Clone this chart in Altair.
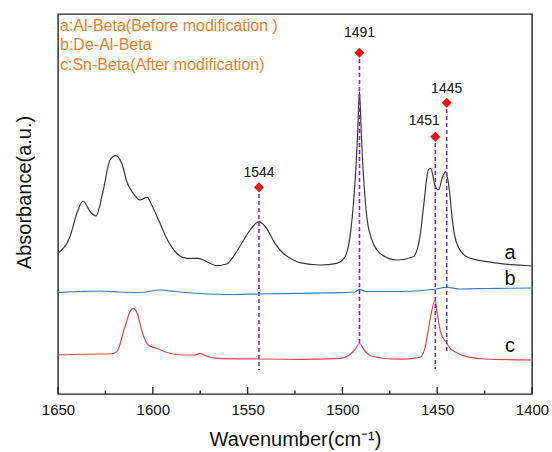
import altair as alt
import pandas as pd

# ---- data ----
a_wn = [1650, 1643.7, 1640, 1636.8, 1633, 1630, 1626.1, 1622.6, 1619.6, 1616.4, 1613.4, 1610.3, 1606.8,
        1602.9, 1600.6, 1596.2, 1592.7, 1587.4, 1582.1, 1576, 1571.6, 1566.3, 1561, 1557.5, 1553.1,
        1548.7, 1544, 1540, 1535.6, 1531.2, 1525.9, 1522.4, 1511.8, 1503, 1498.6, 1496, 1493.9, 1492.1,
        1491, 1489.9, 1488.1, 1486, 1480.2, 1471.4, 1462.6, 1459.1, 1457, 1454.7, 1453.4, 1451.2,
        1449.4, 1447.1, 1445.5, 1443.6, 1441.8, 1439.7, 1434.4, 1423.9, 1400]
a_y = [141, 157.3, 181, 193, 182.3, 178, 204, 234, 238.3, 230.7, 210.7, 200.7, 194,
       196.7, 189, 170.7, 155.7, 140.7, 135.7, 135.7, 132.3, 128.3, 130, 137.3, 150.7,
       164, 172.3, 165.7, 150.7, 140.7, 134, 131.3, 129, 130.7, 137.3, 157.3, 197.3, 254,
       302.3, 254, 197.3, 164, 140.7, 134, 137.3, 157.3, 190.7, 224, 225.7, 209,
       204, 217.3, 222.3, 204, 170.7, 150.7, 137.3, 132.3, 128]

b_wn = [1650, 1638.4, 1627.8, 1617.3, 1606.8, 1596.2, 1588.3, 1575.1, 1559.3, 1544, 1522.4, 1501.3,
        1493.4, 1491, 1487.6, 1469.6, 1452.2, 1445, 1438, 1422.2, 1400]
b_y = [101.7, 102.5, 103, 102, 101.5, 104, 102.5, 100.5, 99.5, 100, 100.7, 101.3,
       102, 104.7, 102.5, 102.5, 104.5, 106.7, 105, 105.5, 106]

c_wn = [1650, 1627.8, 1622.6, 1619, 1614.7, 1612, 1610.3, 1608.2, 1605.9, 1602.4, 1598, 1593.6,
        1584.1, 1577.7, 1575.1, 1572.5, 1566.3, 1544, 1522.4, 1501.3, 1496.3, 1493.5, 1491, 1488.5,
        1485.7, 1479.5, 1470, 1462.6, 1459.1, 1456.5, 1455.3, 1453.8, 1451, 1450, 1448, 1445.4,
        1443.2, 1440.6, 1434.4, 1425, 1400]
c_y = [39, 40, 40, 42.3, 67.3, 82.3, 85.7, 80.7, 64, 49, 45.7, 42.3,
       39, 39, 40.7, 38.5, 35.7, 35, 34.7, 35.7, 39, 44, 50.5, 44,
       39, 36, 34.8, 35.7, 36.7, 45.7, 57.3, 74, 94, 80.7, 60.7, 52.3,
       45.7, 42.3, 37.3, 35, 34]

peak_wn = [1544, 1491, 1451, 1445]
peak_label = ["1544", "1491", "1451", "1445"]
label_wn = [1544, 1491, 1456.8, 1445]
marker_y = [206.7, 341.3, 257.3, 291.3]
label_y = [217.3, 357.5, 269, 301.3]
dash_top = [200, 335, 251, 285]
dash_bottom = [24, 49, 25, 42]

curve_names = ["a", "b", "c"]
curve_colors = ["#3a3a3a", "#3c7bd0", "#e04848"]
curve_label_wn = [1411.6, 1411.6, 1411.6]
curve_label_y = [134.7, 109, 42.3]

legend_lines = ["a:Al-Beta(Before modification )", "b:De-Al-Beta", "c:Sn-Beta(After modification)"]

major_ticks = [1650, 1600, 1550, 1500, 1450, 1400]
minor_ticks = [1625, 1575, 1525, 1475, 1425]

# ---- tables ----
rows = []
for name, wns, ys in zip(curve_names, [a_wn, b_wn, c_wn], [a_y, b_y, c_y]):
    for w, v in zip(wns, ys):
        rows.append({"wn": w, "absorb": v, "series": name})
curves = pd.DataFrame(rows)
peaks = pd.DataFrame({"wn": peak_wn, "label": peak_label, "lwn": label_wn, "my": marker_y,
                      "ly": label_y, "top": dash_top, "bottom": dash_bottom})
clabels = pd.DataFrame({"wn": curve_label_wn, "y": curve_label_y, "t": curve_names})
majors = pd.DataFrame({"wn": major_ticks})
minors = pd.DataFrame({"wn": minor_ticks})

FONT = "Liberation Sans"
W, H = 474, 380

xscale = alt.Scale(domain=[1650, 1400], nice=False, zero=False)
yscale = alt.Scale(domain=[0, 380], nice=False, zero=False)

xax = alt.Axis(values=major_ticks, ticks=False, domain=False, grid=False, labelFontSize=15,
               labelPadding=8, labelColor="#111", labelFlush=False, title="Wavenumber(cm\u207b\u00b9)",
               titleFontSize=20, titleFontWeight="normal", titlePadding=12, titleColor="#111",
               labelFont=FONT, titleFont=FONT, format="d")
yax = alt.Axis(labels=False, ticks=False, domain=False, grid=False, title="Absorbance(a.u.)",
               titleFontSize=20, titleFontWeight="normal", titlePadding=24, titleColor="#111",
               titleFont=FONT, titleY=178)

lines = alt.Chart(curves).mark_line(interpolate="monotone", strokeWidth=1.2).encode(
    x=alt.X("wn:Q", scale=xscale, axis=xax),
    y=alt.Y("absorb:Q", scale=yscale, axis=yax),
    color=alt.Color("series:N", scale=alt.Scale(domain=curve_names, range=curve_colors), legend=None),
    order=alt.Order("wn:Q", sort="descending"),
)

dashes = alt.Chart(peaks).mark_rule(color="#7a35a8", strokeWidth=1.6, strokeDash=[4, 3]).encode(
    x=alt.X("wn:Q", scale=xscale), y=alt.Y("top:Q", scale=yscale), y2="bottom:Q")

markers = alt.Chart(peaks).mark_point(shape="diamond", filled=True, color="#ee1111", size=100, opacity=1).encode(
    x=alt.X("wn:Q", scale=xscale), y=alt.Y("my:Q", scale=yscale))

plabels = alt.Chart(peaks).mark_text(fontSize=14, font=FONT, color="#111", baseline="alphabetic").encode(
    x=alt.X("lwn:Q", scale=xscale), y=alt.Y("ly:Q", scale=yscale), text="label:N")

ctext = alt.Chart(clabels).mark_text(fontSize=20, font=FONT, color="#111", baseline="alphabetic").encode(
    x=alt.X("wn:Q", scale=xscale), y=alt.Y("y:Q", scale=yscale), text="t:N")

major_rules = alt.Chart(majors).mark_rule(color="#222", strokeWidth=1.3).encode(
    x=alt.X("wn:Q", scale=xscale), y=alt.value(H), y2=alt.value(H - 7))
minor_rules = alt.Chart(minors).mark_rule(color="#222", strokeWidth=1.3).encode(
    x=alt.X("wn:Q", scale=xscale), y=alt.value(H), y2=alt.value(H - 3.5))

legend_layers = []
for i, txt in enumerate(legend_lines):
    legend_layers.append(
        alt.Chart(pd.DataFrame({"t": [txt]})).mark_text(
            align="left", baseline="alphabetic", fontSize=16, font=FONT, color="#ec8126"
        ).encode(x=alt.value(2), y=alt.value(16.7 + 19.7 * i), text="t:N")
    )

chart = alt.layer(lines, dashes, markers, plabels, ctext, major_rules, minor_rules, *legend_layers).properties(
    width=W, height=H,
    autosize=alt.AutoSizeParams(type="none"),
    padding={"left": 58, "top": 14, "right": 20, "bottom": 58},
    background="white",
).configure_view(stroke="#222", strokeWidth=1.4)

chart.save("out.html", embed_options={"renderer": "svg", "actions": False})
